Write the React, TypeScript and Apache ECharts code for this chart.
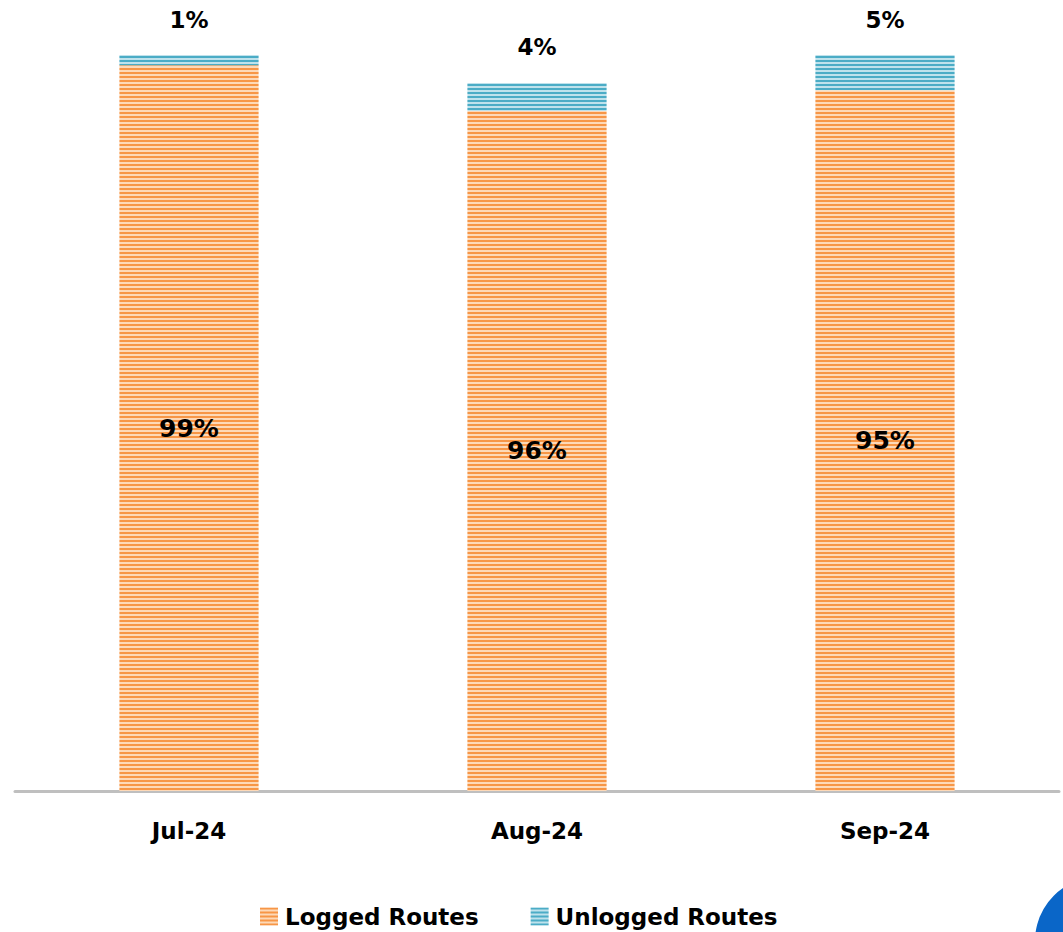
import React, { useEffect, useRef } from "react";
import * as echarts from "echarts";

const categories = ["Jul-24", "Aug-24", "Sep-24"];
const loggedRoutes = [98.6, 92.4, 95.2];
const unloggedRoutes = [1.4, 3.8, 4.8];
const loggedLabels = ["99%", "96%", "95%"];
const unloggedLabels = ["1%", "4%", "5%"];

function stripe(dark: string, light: string): any {
  const c = document.createElement("canvas");
  c.width = 4;
  c.height = 4;
  const ctx = c.getContext("2d")!;
  ctx.fillStyle = light;
  ctx.fillRect(0, 0, 4, 4);
  ctx.fillStyle = dark;
  ctx.fillRect(0, 0, 4, 2);
  return { image: c, repeat: "repeat" };
}

export default function App() {
  const ref = useRef<HTMLDivElement>(null);
  useEffect(() => {
    if (!ref.current) return;
    const chart = echarts.init(ref.current, null, { renderer: "svg" });
    const font = "DejaVu Sans";
    const orange = stripe("#F79646", "#FDD9B8");
    const blue = stripe("#4BACC6", "#BFE2EC");
    chart.setOption({
      animation: false,
      backgroundColor: "#ffffff",
      grid: { left: 15, right: 4, top: 55, bottom: 141, containLabel: false },
      legend: {
        left: 255,
        top: 900,
        itemWidth: 18,
        itemHeight: 18,
        itemGap: 52,
        icon: "rect",
        textStyle: { fontFamily: font, fontWeight: "bold", fontSize: 23, color: "#000", padding: [0, 0, 0, 2] },
        data: ["Logged Routes", "Unlogged Routes"],
      },
      xAxis: {
        type: "category",
        data: categories,
        axisLine: { show: true, lineStyle: { color: "#BFBFBF", width: 3 } },
        axisTick: { show: false },
        axisLabel: { fontFamily: font, fontWeight: "bold", fontSize: 23, color: "#000", margin: 28 },
      },
      yAxis: {
        type: "value",
        min: 0,
        max: 100,
        show: false,
        splitLine: { show: false },
      },
      series: [
        {
          name: "Logged Routes",
          type: "bar",
          stack: "total",
          barWidth: "40%",
          data: loggedRoutes,
          itemStyle: { color: orange },
          label: {
            show: true,
            position: "inside",
            fontFamily: font,
            fontWeight: "bold",
            fontSize: 25,
            color: "#000",
            formatter: (p: any) => loggedLabels[p.dataIndex],
          },
        },
        {
          name: "Unlogged Routes",
          type: "bar",
          stack: "total",
          barWidth: "40%",
          data: unloggedRoutes,
          itemStyle: { color: blue },
          label: {
            show: true,
            position: "top",
            distance: 24,
            fontFamily: font,
            fontWeight: "bold",
            fontSize: 23,
            color: "#000",
            formatter: (p: any) => unloggedLabels[p.dataIndex],
          },
        },
      ],
      graphic: [
        {
          type: "circle",
          shape: { cx: 1099, cy: 941, r: 64 },
          style: { fill: "#0A66C8" },
          z: 100,
        },
      ],
    });
    return () => chart.dispose();
  }, []);
  return <div ref={ref} style={{ width: 1063, height: 932, position: "absolute", left: 0, top: 0 }} />;
}
